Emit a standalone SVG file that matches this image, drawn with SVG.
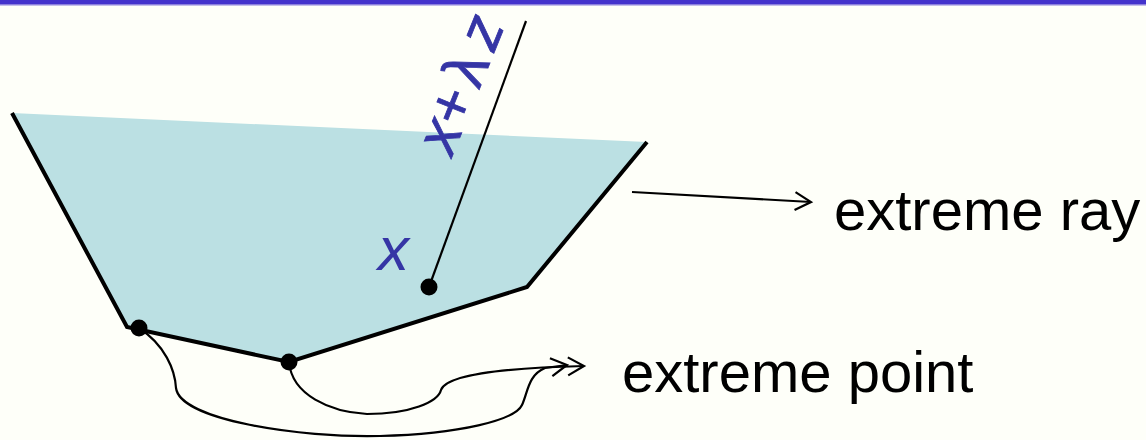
<svg xmlns="http://www.w3.org/2000/svg" width="1146" height="440" viewBox="0 0 1146 440">
  <defs>
    <style>
      .edge { fill: none; stroke: #000; stroke-width: 4; stroke-linejoin: miter; }
      .conn { fill: none; stroke: #000; stroke-width: 2.2; }
      .lbl { font-family: "Liberation Sans", Arial, sans-serif; font-size: 58px; fill: #000; }
      .var { font-family: "Liberation Sans", Arial, sans-serif; fill: #3535A5; }
      .dot { fill: #000; }
    </style>
    <marker id="chev" markerUnits="userSpaceOnUse" markerWidth="24" markerHeight="24" refX="18" refY="10" orient="auto" viewBox="0 0 24 20">
      <path d="M2,1 L18,10 L2,19" fill="none" stroke="#000" stroke-width="2.2"/>
    </marker>
  </defs>
  <rect x="0" y="0" width="1146" height="440" fill="#FEFFF9"/>
  <rect x="0" y="0" width="1146" height="4" fill="#4433CC"/>
  <rect x="0" y="4" width="1146" height="1.5" fill="#8C80DD"/>

  <g id="region">
    <polygon points="12,113 647,142 527,287 289,362 127,327" fill="#BBE0E3"/>
    <polyline class="edge" points="12,113 127,327 289,362 527,287 647,142"/>
  </g>

  <g id="connectors">
    <line class="conn" x1="429" y1="287" x2="526" y2="21"/>
    <path class="conn" d="M632,192 L811,202" marker-end="url(#chev)"/>
    <path class="conn" d="M139,328 C165,345 175,370 176,388 C180,420 300,438 380,436 C460,434 515,420 522,405 C528,392 528,375 545,368 L567,365" marker-end="url(#chev)"/>
    <path class="conn" d="M289,362 C292,395 330,412 367,414 C410,414 438,402 441,390 C446,375 500,368 584,366" marker-end="url(#chev)"/>
  </g>

  <g id="points">
    <circle class="dot" cx="139" cy="328" r="8.5"/>
    <circle class="dot" cx="289" cy="362" r="8.5"/>
    <circle class="dot" cx="429" cy="287" r="8.5"/>
  </g>

  <g id="label-x">
    <text class="var" x="378" y="270" font-size="62" font-style="italic">x</text>
  </g>
  <g id="label-ray-expr">
    <text class="var" font-size="60" stroke="#3535A5" stroke-width="0.8" transform="translate(452,157) rotate(-68)"><tspan font-style="italic">x</tspan><tspan>+</tspan><tspan dx="7">λ</tspan><tspan dx="10" font-style="italic">z</tspan></text>
  </g>
  <g id="label-extreme-ray">
    <text class="lbl" x="834" y="230">extreme ray</text>
  </g>
  <g id="label-extreme-point">
    <text class="lbl" x="622" y="392">extreme point</text>
  </g>
</svg>
